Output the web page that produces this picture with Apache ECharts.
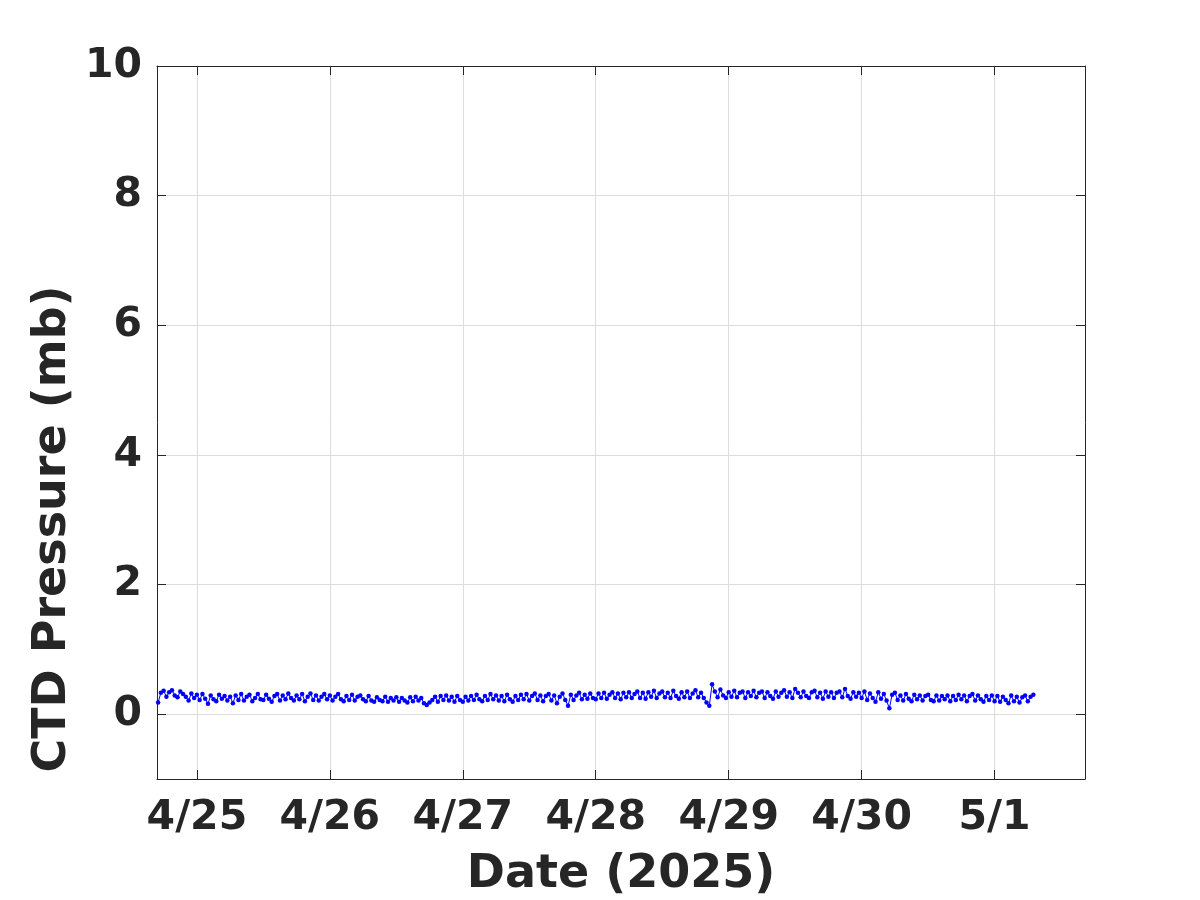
<!DOCTYPE html>
<html><head><meta charset="utf-8">
<script src="https://cdn.jsdelivr.net/npm/echarts@6/dist/echarts.min.js"></script>
<style>html,body{margin:0;padding:0;background:#fff}#c{width:1200px;height:900px}</style>
</head><body><div id="c"></div>
<script>
// Start: 4/24 17:00, 30-minute steps; x measured in days from 4/25 00:00
const startDay = -7/24;
const stepDays = 0.5/24;
const tickDates = ['4/25','4/26','4/27','4/28','4/29','4/30','5/1'];
const yLabel = 'CTD Pressure (mb)';
const xLabel = 'Date (2025)';
const day0424 = [0.18,0.33,0.36,0.27,0.34,0.37,0.29,0.26,0.35,0.31,0.27,0.21,0.32,0.25];
const day0425 = [0.30,0.22,0.31,0.24,0.16,0.29,0.23,0.20,0.30,0.24,0.28,0.21,
0.27,0.17,0.29,0.22,0.31,0.21,0.27,0.30,0.20,0.25,0.31,0.23,
0.22,0.30,0.24,0.19,0.28,0.31,0.21,0.29,0.23,0.32,0.25,0.21,
0.29,0.23,0.31,0.20,0.27,0.32,0.22,0.29,0.21,0.27,0.31,0.23];
const day0426 = [0.29,0.21,0.27,0.31,0.23,0.20,0.28,0.22,0.30,0.21,0.27,0.29,
0.23,0.20,0.28,0.21,0.19,0.26,0.22,0.20,0.27,0.19,0.25,0.21,
0.26,0.19,0.25,0.21,0.18,0.26,0.20,0.27,0.21,0.25,0.17,0.14,
0.18,0.22,0.27,0.19,0.28,0.22,0.29,0.21,0.27,0.19,0.28,0.22];
const day0427 = [0.19,0.27,0.21,0.28,0.22,0.30,0.23,0.20,0.28,0.22,0.31,0.23,
0.29,0.21,0.28,0.20,0.30,0.23,0.19,0.28,0.22,0.30,0.23,0.31,
0.21,0.28,0.32,0.22,0.29,0.20,0.28,0.31,0.21,0.29,0.17,0.27,
0.32,0.22,0.13,0.30,0.22,0.29,0.33,0.23,0.30,0.24,0.32,0.25];
const day0428 = [0.23,0.32,0.25,0.33,0.24,0.30,0.34,0.25,0.32,0.23,0.33,0.26,
0.34,0.25,0.31,0.35,0.25,0.33,0.24,0.34,0.27,0.36,0.25,0.32,
0.35,0.26,0.33,0.25,0.36,0.28,0.24,0.34,0.26,0.35,0.25,0.32,
0.37,0.26,0.33,0.25,0.18,0.13,0.46,0.35,0.26,0.38,0.29,0.25];
const day0429 = [0.34,0.27,0.36,0.26,0.33,0.35,0.25,0.34,0.28,0.36,0.26,0.33,
0.35,0.25,0.34,0.28,0.24,0.35,0.27,0.33,0.37,0.27,0.34,0.25,
0.39,0.33,0.26,0.35,0.28,0.25,0.34,0.36,0.26,0.33,0.24,0.35,
0.27,0.34,0.25,0.33,0.35,0.26,0.39,0.28,0.24,0.34,0.27,0.33];
const day0430 = [0.25,0.35,0.22,0.32,0.25,0.19,0.34,0.24,0.31,0.21,0.09,0.30,
0.33,0.22,0.29,0.21,0.31,0.24,0.20,0.30,0.23,0.29,0.21,0.28,
0.30,0.22,0.20,0.29,0.21,0.28,0.23,0.29,0.20,0.28,0.22,0.30,
0.23,0.29,0.20,0.28,0.31,0.21,0.29,0.23,0.19,0.28,0.22,0.29];
const day0501 = [0.20,0.28,0.19,0.27,0.22,0.17,0.29,0.20,0.27,0.18,0.26,0.29,0.20,0.27,0.30];

const values = [].concat(day0424, day0425, day0426, day0427, day0428, day0429, day0430, day0501);
const seriesData = values.map((v, i) => [startDay + i * stepDays, v]);

const txt = '#262626';
const font = 'DejaVu Sans';
const chart = echarts.init(document.getElementById('c'), null, {renderer: 'canvas'});
const baseX = {
  type: 'value', min: -0.3, max: 6.68, splitNumber: 7,
  axisLine: {show: true, onZero: false, lineStyle: {color: txt, width: 1}},
  axisTick: {show: true, inside: true, length: 9, lineStyle: {color: txt}},
  splitLine: {show: false}
};
const baseY = {
  type: 'value', min: -1, max: 10, splitNumber: 5,
  axisLine: {show: true, onZero: false, lineStyle: {color: txt, width: 1}},
  axisTick: {show: true, inside: true, length: 9, lineStyle: {color: txt}},
  splitLine: {show: false}
};
chart.setOption({
  backgroundColor: '#ffffff',
  animation: false,
  grid: {left: 157, right: 115, top: 66, bottom: 121, containLabel: false, outerBoundsMode: 'none'},
  xAxis: [
    Object.assign({}, baseX, {
      position: 'bottom',
      splitLine: {show: true, lineStyle: {color: '#dcdcdc', width: 1}},
      axisLabel: {
        show: true, color: txt, fontFamily: font, fontWeight: 'bold', fontSize: 41, margin: 19,
        showMinLabel: false, showMaxLabel: false,
        formatter: v => { const k = Math.round(v); return Math.abs(v - k) < 1e-6 && k >= 0 && k < tickDates.length ? tickDates[k] : ''; }
      },
      name: xLabel, nameLocation: 'middle', nameGap: 73,
      nameTextStyle: {color: txt, fontFamily: font, fontWeight: 'bold', fontSize: 46}
    }),
    Object.assign({}, baseX, {position: 'top', axisLabel: {show: false}})
  ],
  yAxis: [
    Object.assign({}, baseY, {
      position: 'left',
      splitLine: {show: true, lineStyle: {color: '#dcdcdc', width: 1}},
      axisLabel: {show: true, color: txt, fontFamily: font, fontWeight: 'bold', fontSize: 41, margin: 15,
        showMinLabel: false}
    }),
    Object.assign({}, baseY, {position: 'right', axisLabel: {show: false}})
  ],
  graphic: [{
    type: 'text', x: 53, y: 529, rotation: Math.PI / 2,
    style: {text: yLabel, fill: txt, font: 'bold 46px "DejaVu Sans"', textAlign: 'center', textVerticalAlign: 'middle'}
  }],
  series: [{
    type: 'line', xAxisIndex: 0, yAxisIndex: 0, data: seriesData,
    symbol: 'circle', symbolSize: 4.5, showSymbol: true,
    lineStyle: {color: '#0000ff', width: 1},
    itemStyle: {color: '#0000ff'}
  }]
});
</script></body></html>
